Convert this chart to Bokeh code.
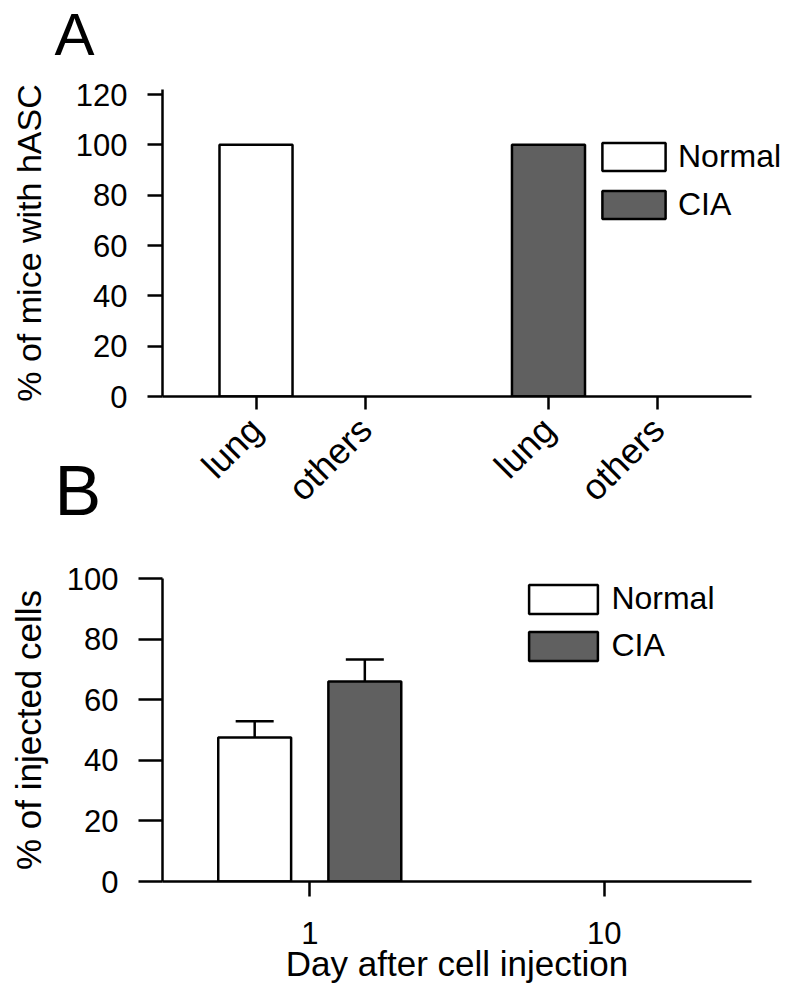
import math
from bokeh.plotting import figure
from bokeh.models import (FactorRange, Range1d, Legend, LegendItem, Label,
                          Whisker, TeeHead, ColumnDataSource, FixedTicker)
from bokeh.transform import dodge
from bokeh.layouts import column
from bokeh.embed import file_html
from bokeh.resources import INLINE

# ---------------- data ----------------
# Panel A: % of mice with hASC
groups_a = ["Normal", "CIA"]
sites_a = ["lung", "others"]
pct_normal_a = [100, 0]
pct_cia_a = [100, 0]
yticks_a = [0, 20, 40, 60, 80, 100, 120]

# Panel B: % of injected cells
days_b = ["1", "10"]
inj_normal_b = [47.5, 0]
inj_normal_sem_b = [5.4, 0]
inj_cia_b = [66.0, 0]
inj_cia_sem_b = [7.3, 0]
yticks_b = [0, 20, 40, 60, 80, 100]

FONT = "Liberation Sans"
DARK = "#606060"
LW = 2.5
W, H = 789, 988


def style_axes(p):
    p.xgrid.visible = False
    p.ygrid.visible = False
    p.outline_line_color = None
    p.background_fill_color = "white"
    p.border_fill_color = "white"
    for ax in p.axis:
        ax.axis_line_width = LW
        ax.axis_line_color = "black"
        ax.major_tick_line_width = LW
        ax.major_tick_line_color = "black"
        ax.major_tick_in = 0
        ax.minor_tick_in = 0
        ax.minor_tick_out = 0
        ax.major_label_text_font = FONT
        ax.major_label_text_font_size = "31px"
        ax.major_label_text_color = "black"
        ax.axis_label_text_font = FONT
        ax.axis_label_text_font_style = "normal"
        ax.axis_label_text_color = "black"


# ---------------- panel A ----------------
HA = 526
factors_a = [(g, s) for g in groups_a for s in sites_a]
xr_a = FactorRange(*factors_a, factor_padding=0, group_padding=0.671,
                   range_padding=0.354, range_padding_units="absolute")
yr_a = Range1d(0, 122)
pa = figure(width=W, height=HA, x_range=xr_a, y_range=yr_a,
            output_backend="svg", toolbar_location=None,
            min_border_left=162, min_border_right=38,
            min_border_top=89, min_border_bottom=HA - 398)
style_axes(pa)

def nonzero(xs, vals):
    return [x for x, v in zip(xs, vals) if v > 0], [v for v in vals if v > 0]

xn, tn = nonzero([("Normal", s) for s in sites_a], pct_normal_a)
xc, tc = nonzero([("CIA", s) for s in sites_a], pct_cia_a)
src_an = ColumnDataSource(dict(x=xn, top=tn))
src_ac = ColumnDataSource(dict(x=xc, top=tc))
BAR_A = dict(width=0.667, line_color="black", line_width=LW)
pa.vbar(x="x", top="top", source=src_an, fill_color="white", **BAR_A)
pa.vbar(x="x", top="top", source=src_ac, fill_color=DARK, **BAR_A)

ya = pa.yaxis[0]
ya.ticker = FixedTicker(ticks=yticks_a)
ya.major_tick_out = 15
ya.major_label_standoff = 20
ya.axis_label = "% of mice with hASC"
ya.axis_label_text_font_size = "34px"
ya.axis_label_standoff = 25

xa = pa.xaxis[0]
xa.major_tick_out = 13
xa.major_label_standoff = 14
xa.major_label_text_font_size = "36px"
xa.major_label_orientation = math.pi / 4
xa.group_text_color = None
xa.group_text_font_size = "1px"
xa.separator_line_color = None

# ---------------- panel B ----------------
TB = HA
HB = H - TB
pb = figure(width=W, height=HB, x_range=FactorRange(*days_b),
            y_range=Range1d(0, 100),
            output_backend="svg", toolbar_location=None,
            min_border_left=162, min_border_right=37,
            min_border_top=578 - TB, min_border_bottom=HB - (578 - TB) - 303)
style_axes(pb)

def bar_src(vals, sems):
    d = [(x, v, v + s) for x, v, s in zip(days_b, vals, sems) if v > 0]
    return ColumnDataSource(dict(day=[r[0] for r in d], top=[r[1] for r in d],
                                 upper=[r[2] for r in d]))

src_bn = bar_src(inj_normal_b, inj_normal_sem_b)
src_bc = bar_src(inj_cia_b, inj_cia_sem_b)
OFF = 0.187
BW = 0.2475
for src, off in ((src_bn, -OFF), (src_bc, OFF)):
    pb.add_layout(Whisker(base=dodge("day", off, range=pb.x_range),
                          lower="top", upper="upper", source=src,
                          line_color="black", line_width=LW,
                          lower_head=None,
                          upper_head=TeeHead(size=38, line_color="black",
                                             line_width=LW)))
rb_n = pb.vbar(x=dodge("day", -OFF, range=pb.x_range), top="top", width=BW,
               source=src_bn, fill_color="white", line_color="black",
               line_width=LW)
rb_c = pb.vbar(x=dodge("day", OFF, range=pb.x_range), top="top", width=BW,
               source=src_bc, fill_color=DARK, line_color="black",
               line_width=LW)

yb = pb.yaxis[0]
yb.ticker = FixedTicker(ticks=yticks_b)
yb.major_tick_out = 24
yb.major_label_standoff = 20
yb.axis_label = "% of injected cells"
yb.axis_label_text_font_size = "35px"
yb.axis_label_standoff = 16

xb = pb.xaxis[0]
xb.major_tick_out = 15
xb.major_label_standoff = 25
xb.axis_label = "Day after cell injection"
xb.axis_label_text_font_size = "35px"
xb.axis_label_standoff = -3

leg_b = Legend(items=[LegendItem(label="Normal", renderers=[rb_n]),
                      LegendItem(label="CIA", renderers=[rb_c])],
               location=(358.4, 216.6), padding=0, margin=0, spacing=10,
               glyph_width=86, glyph_height=36, label_standoff=5,
               label_text_font=FONT, label_text_font_size="32px",
               label_text_color="black",
               border_line_color=None, background_fill_alpha=0)
pb.add_layout(leg_b)

# ---------------- transparent overlay: panel letters + legend of panel A ----
# shares panel A's ranges and sources so its legend swatches come from
# (hidden) copies of the panel A bar renderers
po = figure(width=W, height=H, x_range=xr_a, y_range=yr_a,
            output_backend="svg", toolbar_location=None,
            x_axis_location=None, y_axis_location=None,
            min_border=0, min_border_left=0, min_border_right=0,
            min_border_top=0, min_border_bottom=0)
try:
    po.frame_align = False
except Exception:
    pass
po.xgrid.visible = False
po.ygrid.visible = False
po.outline_line_color = None
po.background_fill_color = None
po.border_fill_color = None
po.margin = (-H, 0, 0, 0)

ko_n = po.vbar(x="x", top="top", source=src_an, fill_color="white",
               visible=False, **BAR_A)
ko_c = po.vbar(x="x", top="top", source=src_ac, fill_color=DARK,
               visible=False, **BAR_A)
leg_a = Legend(items=[LegendItem(label="Normal", renderers=[ko_n]),
                      LegendItem(label="CIA", renderers=[ko_c])],
               location=(594, H - 139.5 - 83), padding=0, margin=0, spacing=11,
               glyph_width=79, glyph_height=35, label_standoff=5,
               label_text_font=FONT, label_text_font_size="32px",
               label_text_color="black", inactive_fill_alpha=0,
               border_line_color=None, background_fill_alpha=0)
po.add_layout(leg_a)

po.add_layout(Label(x=54, y=H - 34, x_units="screen", y_units="screen",
                    text="A", text_font=FONT, text_font_size="60px",
                    text_color="black", text_baseline="alphabetic"))
po.add_layout(Label(x=54, y=H - 517 + 27, x_units="screen", y_units="screen",
                    text="B", text_font=FONT, text_font_size="70px",
                    text_color="black", text_baseline="alphabetic"))

layout = column(pa, pb, po, spacing=0)
open("out.html", "w").write(file_html(layout, INLINE))
